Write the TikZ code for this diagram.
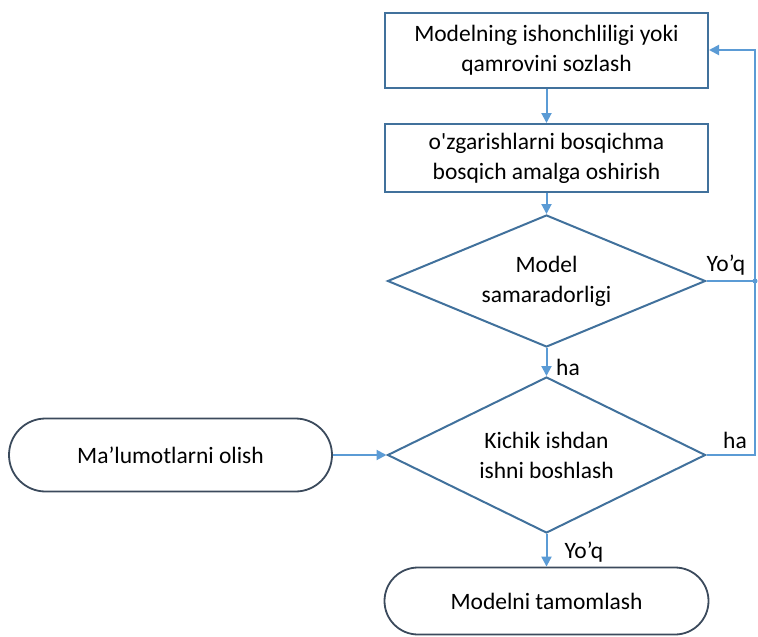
\documentclass[tikz,border=0pt]{standalone}
\usepackage{fontspec}
\setmainfont{Carlito}[Ligatures=TeXOff]
\usetikzlibrary{shapes.geometric,shapes.misc,arrows.meta}
\definecolor{boxc}{HTML}{41719C}
\definecolor{arrc}{HTML}{5B9BD5}
\definecolor{termc}{HTML}{3B4A5C}
\begin{document}
\begin{tikzpicture}[x=1pt,y=-1pt,
  txt/.style={font=\fontsize{23.5}{30}\selectfont, align=center, text=black},
  proc/.style={txt, draw=boxc, line width=2pt, minimum width=323pt, inner sep=0pt},
  dec/.style={txt, draw=boxc, line width=2pt, shape=diamond, aspect=2.4, inner sep=0pt},
  term/.style={txt, draw=termc, line width=1.8pt, rounded rectangle, inner sep=0pt},
  arr/.style={draw=arrc, line width=2pt, -{Triangle[length=10pt,width=10pt]}},
  ln/.style={draw=arrc, line width=2pt},
  lbl/.style={font=\fontsize{23.5}{28}\selectfont, text=black, inner sep=0pt}
]
\useasboundingbox (0,0) rectangle (758,637);
\node[proc, minimum height=75pt] (b1) at (546.5,50) {Modelning ishonchliligi yoki\\qamrovini sozlash};
\node[proc, minimum height=68pt] (b2) at (546.5,158) {o'zgarishlarni bosqichma\\bosqich amalga oshirish};
\node[dec, minimum width=318pt, minimum height=132pt] (d1) at (546.5,281) {Model\\samaradorligi};
\node[dec, minimum width=318pt, minimum height=156pt] (d2) at (546.5,455) {Kichik ishdan\\ishni boshlash};
\node[term, minimum width=323pt, minimum height=73pt] (t1) at (170.5,455) {Ma’lumotlarni olish};
\node[term, minimum width=324pt, minimum height=67pt] (t2) at (546.5,601) {Modelni tamomlash};
\coordinate (R) at (755,0);

\draw[arr] (b1) -- (b2);
\draw[arr] (b2) -- (d1);
\draw[arr] (d1) -- (d2);
\draw[arr] (d2) -- (t2);
\draw[arr] (t1.east) -- (d2.west);
\draw[ln] (d1.east) -- (d1.east -| R);
\draw[arr] (d2.east) -- (d2.east -| R) |- (b1.east);
\fill[arrc] (d1.east -| R) circle (2.5pt);

\node[lbl] (l1) at (726,265) {Yo’q};
\node[lbl] (l2) at (735,440) {ha};
\node[lbl] (l3) at (568,367) {ha};
\node[lbl] (l4) at (584,552) {Yo’q};
\end{tikzpicture}
\end{document}
